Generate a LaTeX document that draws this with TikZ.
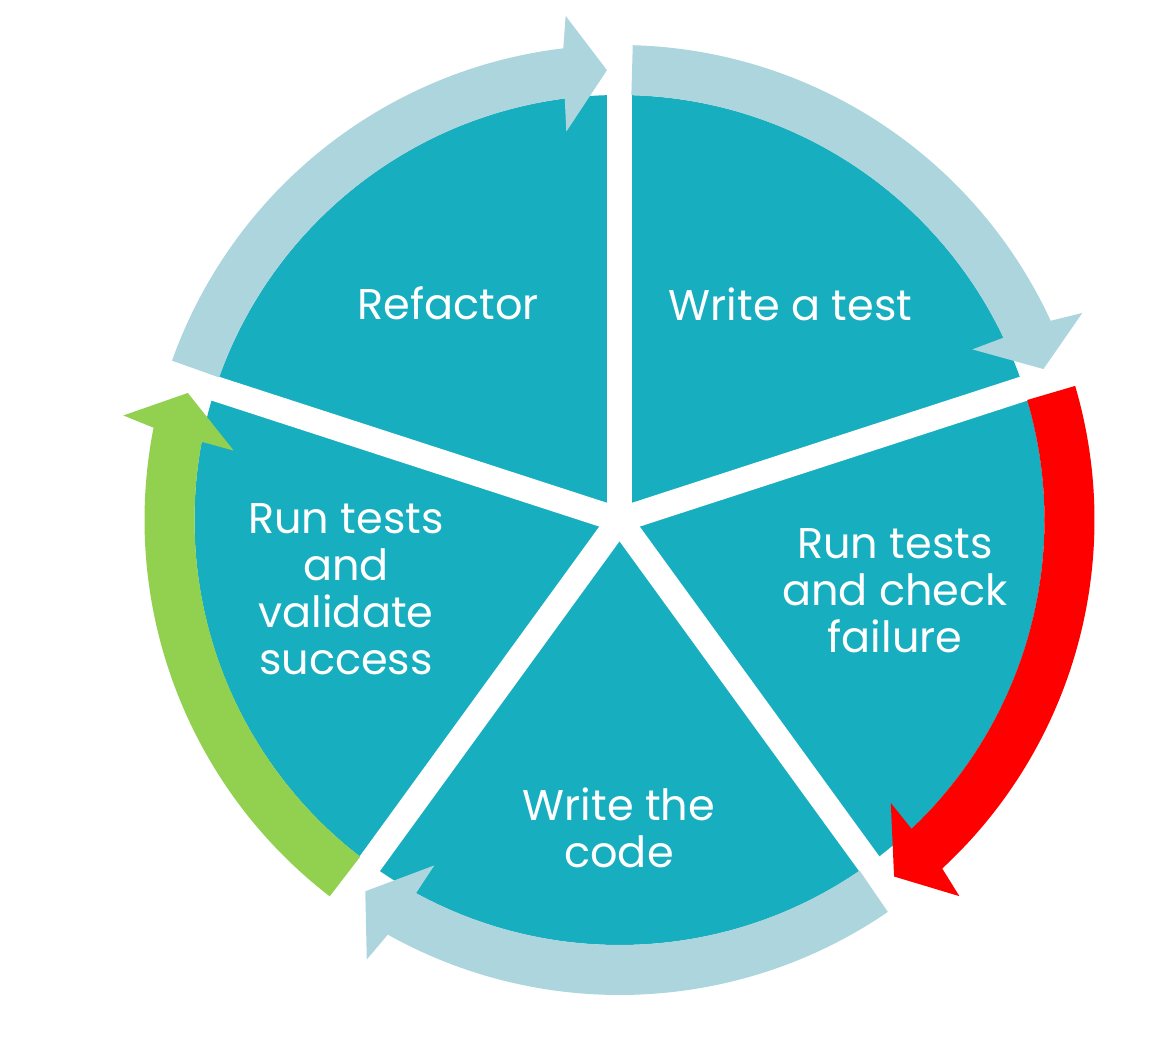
\documentclass[tikz,border=0pt]{standalone}
\usepackage{fontspec}
\setmainfont{Poppins}
\definecolor{teal}{HTML}{17AEBF}
\definecolor{lblue}{HTML}{ADD5DD}
\definecolor{lgreen}{HTML}{92D050}
\definecolor{pred}{HTML}{FF0000}
\newcommand{\ringarrow}[3]{%
  \fill[#3] ({#1-1.6}:475pt) arc[start angle={#1-1.6}, end angle={#2+6.8}, radius=475pt]
    -- ({#2+6.1}:507pt) -- ({#2+1.6}:450pt) -- ({#2+7.8}:392pt) -- ({#2+7.4}:425pt)
    arc[start angle={#2+7.4}, end angle={#1-1.6}, radius=425pt] -- cycle;}
\begin{document}
\begin{tikzpicture}[x=1pt,y=1pt,
  lbl/.style={text=white, align=center, anchor=base, inner sep=0pt,
    font=\fontsize{43}{47}\selectfont},
  gapline/.style={white, line width=25pt}]
\useasboundingbox (0,0) rectangle (1164,1050);
\coordinate (c) at (619.5,530);
\begin{scope}[shift={(c)}]
  \fill[teal] (0,0) circle[radius=425pt];
  \foreach \a in {90,18,-54,-126,162}
    \draw[gapline] (0,0) -- (\a:440pt);
  \ringarrow{90}{18}{lblue}
  \ringarrow{18}{-54}{pred}
  \ringarrow{-54}{-126}{lblue}
  \ringarrow{-126}{-198}{lgreen}
  \ringarrow{162}{90}{lblue}
\end{scope}
\node[lbl] (refactor) at (448,730) {Refactor};
\node[lbl] (write) at (790.5,729) {Write a test};
\node[lbl] (check) at (895,397.5) {Run tests\\and check\\failure};
\node[lbl] (code) at (619,183) {Write the\\code};
\node[lbl] (validate) at (346,375) {Run tests\\and\\validate\\success};
\end{tikzpicture}
\end{document}
